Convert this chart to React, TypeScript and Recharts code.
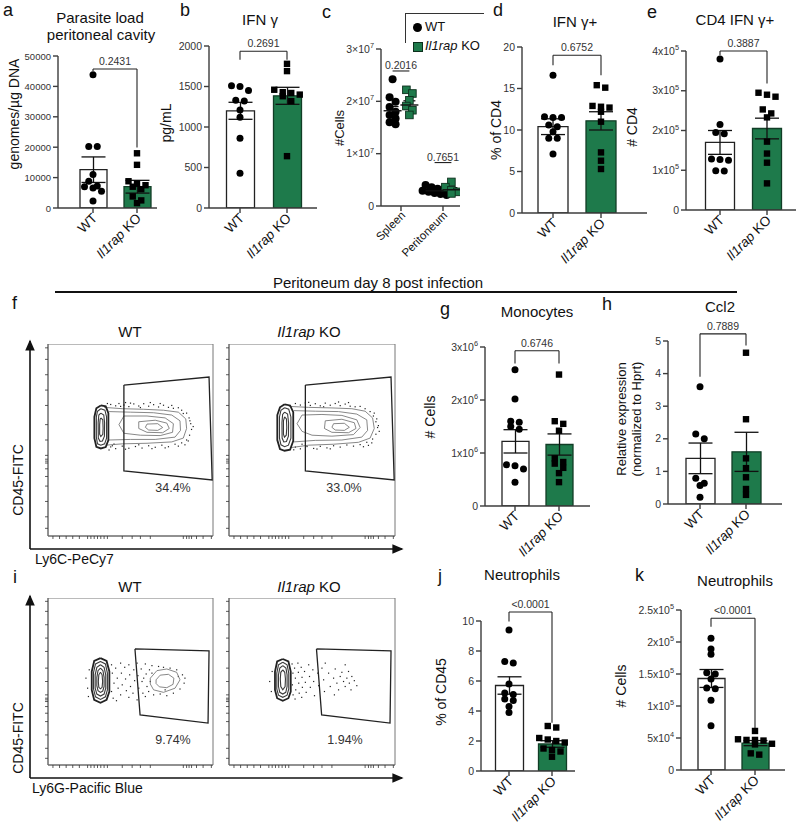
import React from 'react';
import {
  ComposedChart,
  ScatterChart,
  Bar,
  Cell,
  ErrorBar,
  Scatter,
  XAxis,
  YAxis,
  ReferenceLine,
  ReferenceArea,
} from 'recharts';

const FONT = '"Liberation Sans", Arial, Helvetica, sans-serif';
const GREEN = '#1e7a4b';
const INK = '#111';
const GREY = '#3c3c3c';

// a - parasite load (genomes/ug DNA)
const parasiteTicks = [0, 10000, 20000, 30000, 40000, 50000];
const parasiteTickLabels = ['0', '10000', '20000', '30000', '40000', '50000'];
const parasiteWT = [43800, 20200, 20200, 11000, 8800, 7200, 7000, 6600, 5500, 2300];
const parasiteKO = [18000, 14200, 8800, 8000, 7500, 7000, 6200, 3800, 2500, 1600];
const parasiteMean = [12600, 7000];
const parasiteSem = [4200, 2100];
const parasiteBracket = { level: 45700, wtLow: 45100, koLow: 19900, text: '0.2431' };

// b - IFN gamma (pg/mL)
const ifngTicks = [0, 500, 1000, 1500, 2000];
const ifngTickLabels = ['0', '500', '1000', '1500', '2000'];
const ifngWT = [1510, 1500, 1450, 1330, 1320, 1210, 1120, 860, 430];
const ifngKO = [1780, 1690, 1460, 1430, 1420, 1400, 1380, 1320, 640];
const ifngMean = [1200, 1385];
const ifngSem = [105, 105];
const ifngBracket = { level: 1935, wtLow: 1830, koLow: 1830, text: '0.2691' };

// c - cell numbers per organ
const organTicks = [1, 2];
const organNames = ['Spleen', 'Peritoneum'];
const cellTicks = [0, 1e7, 2e7, 3e7];
const cellTickLabels = ['0', '1×10^7', '2×10^7', '3×10^7'];
const spleenWT = [2.42e7, 2.08e7, 1.99e7, 1.89e7, 1.8e7, 1.74e7, 1.67e7, 1.6e7, 1.56e7];
const spleenKO = [2.22e7, 2.15e7, 2.02e7, 1.91e7, 1.83e7, 1.74e7];
const peritWT = [0.4e7, 0.36e7, 0.33e7, 0.31e7, 0.29e7, 0.27e7, 0.25e7, 0.23e7, 0.21e7];
const peritKO = [0.46e7, 0.36e7, 0.3e7, 0.27e7, 0.24e7];
const cellMeanWT = [1.82e7, 0.29e7];
const cellSemWT = [0.08e7, 0.02e7];
const cellMeanKO = [1.93e7, 0.31e7];
const cellSemKO = [0.08e7, 0.04e7];
const cellPValues = ['0.2016', '0.7651'];
const cellBracketLevels = [2.58e7, 0.83e7];

// d - IFN gamma+ % of CD4
const cd4PctTicks = [0, 5, 10, 15, 20];
const cd4PctTickLabels = ['0', '5', '10', '15', '20'];
const cd4PctWT = [16.6, 11.6, 11.5, 11.5, 10.6, 10.4, 9.8, 9.0, 9.0, 7.1];
const cd4PctKO = [15.4, 15.1, 12.9, 12.8, 12.7, 12.2, 11.0, 7.3, 6.3, 5.3];
const cd4PctMean = [10.4, 11.1];
const cd4PctSem = [0.95, 1.1];
const cd4PctBracket = { level: 19, wtLow: 17.8, koLow: 16.6, text: '0.6752' };

// e - CD4 IFN gamma+ numbers
const cd4NumTicks = [0, 1e5, 2e5, 3e5, 4e5];
const cd4NumTickLabels = ['0', '1x10^5', '2x10^5', '3x10^5', '4x10^5'];
const cd4NumWT = [3.8e5, 2.15e5, 1.95e5, 1.92e5, 1.28e5, 1.27e5, 1.25e5, 0.99e5, 0.98e5];
const cd4NumKO = [2.95e5, 2.9e5, 2.85e5, 2.53e5, 2.43e5, 2.33e5, 1.72e5, 1.42e5, 1.19e5, 0.67e5];
const cd4NumMean = [1.7e5, 2.05e5];
const cd4NumSem = [0.3e5, 0.26e5];
const cd4NumBracket = { level: 4e5, wtLow: 3.89e5, koLow: 3.18e5, text: '0.3887' };

// g - monocytes
const monoTicks = [0, 1e6, 2e6, 3e6];
const monoTickLabels = ['0', '1x10^6', '2x10^6', '3x10^6'];
const monoWT = [2.57e6, 2.02e6, 1.6e6, 1.58e6, 1.5e6, 1.45e6, 0.78e6, 0.76e6, 0.7e6, 0.45e6];
const monoKO = [2.48e6, 1.6e6, 1.55e6, 1.42e6, 0.9e6, 0.83e6, 0.8e6, 0.72e6, 0.62e6, 0.45e6];
const monoMean = [1.22e6, 1.16e6];
const monoSem = [0.22e6, 0.2e6];
const monoBracket = { level: 2.93e6, wtLow: 2.69e6, koLow: 2.69e6, text: '0.6746' };

// h - Ccl2 relative expression
const ccl2Ticks = [0, 1, 2, 3, 4, 5];
const ccl2TickLabels = ['0', '1', '2', '3', '4', '5'];
const ccl2WT = [3.6, 2.15, 2.0, 0.79, 0.64, 0.57, 0.21];
const ccl2KO = [4.64, 2.6, 1.4, 1.1, 0.82, 0.46, 0.28];
const ccl2Mean = [1.4, 1.6];
const ccl2Sem = [0.47, 0.6];
const ccl2Bracket = { level: 5.22, wtLow: 3.9, koLow: 4.86, text: '0.7889' };

// j - neutrophils % of CD45
const neutPctTicks = [0, 2, 4, 6, 8, 10];
const neutPctTickLabels = ['0', '2', '4', '6', '8', '10'];
const neutPctWT = [9.4, 7.3, 7.2, 5.8, 5.2, 5.1, 4.8, 4.7, 4.3, 3.9];
const neutPctKO = [3.0, 2.9, 2.2, 2.1, 2.0, 1.9, 1.5, 1.4, 1.3, 0.95];
const neutPctMean = [5.7, 1.8];
const neutPctSem = [0.58, 0.22];
const neutPctBracket = { level: 10.6, wtLow: 9.96, koLow: 3.22, text: '<0.0001' };

// k - neutrophil numbers
const neutNumTicks = [0, 5e4, 1e5, 1.5e5, 2e5, 2.5e5];
const neutNumTickLabels = ['0', '5x10^4', '1x10^5', '1.5x10^5', '2x10^5', '2.5x10^5'];
const neutNumWT = [2.06e5, 1.89e5, 1.81e5, 1.52e5, 1.5e5, 1.42e5, 1.28e5, 1.27e5, 1.09e5, 0.69e5];
const neutNumKO = [0.61e5, 0.48e5, 0.47e5, 0.47e5, 0.46e5, 0.41e5, 0.4e5, 0.26e5, 0.24e5];
const neutNumMean = [1.43e5, 0.42e5];
const neutNumSem = [0.14e5, 0.04e5];
const neutNumBracket = { level: 2.37e5, wtLow: 2.24e5, koLow: 0.65e5, text: '<0.0001' };

// flow cytometry plots (0-100 display units)
const flowXTicks = [3, 7, 11, 15, 19, 24, 26, 28, 30, 32, 34, 36, 45, 51, 56, 62, 82, 84, 85.5, 87, 90, 94, 99];
const flowYTicks = [4, 10, 18, 26, 31, 35, 38, 39, 40, 42, 50, 58, 68, 76, 84, 92, 98];
const ly6cGate = [[46, 78.6], [97.6, 82.8], [99.5, 29.2], [46, 33.9], [46, 78.6]];
const ly6gGate = [[52.7, 69.5], [97.6, 68.3], [97, 25.1], [55.8, 30], [52.7, 69.5]];

const ly6cWTBlob = [
  [[32, 68], [35, 67.5], [36.6, 64], [36.6, 50], [35, 46.3], [32, 45.6], [29.3, 46.5], [28.1, 51], [28.1, 62], [29.3, 66.5], [32, 68]],
  [[32, 66.3], [34.5, 65.5], [35.5, 62], [35.5, 51], [34.3, 48], [32, 47.3], [30, 48], [29.3, 51.5], [29.3, 62], [30, 65], [32, 66.3]],
  [[32, 64], [33.8, 63], [34.3, 59], [34.2, 52], [33, 49.5], [31.5, 49.3], [30.5, 51], [30.4, 59], [30.8, 63], [32, 64]],
  [[32, 61.5], [33.2, 60.5], [33.4, 56], [33.2, 53], [32, 51.8], [31.3, 53], [31.3, 58], [31.6, 60.8], [32, 61.5]],
];
const ly6cWTTail = [
  [[34, 67], [45, 66.3], [58, 66], [70, 65.5], [79, 64.5], [83.5, 61], [84, 56], [82, 51], [75, 49], [60, 48.3], [45, 48], [35, 47.3]],
  [[37, 64.8], [50, 64.5], [64, 64.2], [75, 63], [80, 60], [80.3, 55], [77, 51.5], [65, 50.3], [50, 50.3], [37, 50]],
  [[46, 62.5], [60, 62.5], [71, 61.5], [76, 58.5], [75.5, 54], [68, 52.3], [56, 52.5], [46, 53.5], [43, 58], [46, 62.5]],
  [[55, 59.5], [65, 60.3], [72, 58.8], [73.5, 56], [69.5, 53.8], [60, 54], [55, 56], [55, 59.5]],
  [[60, 58.3], [66.5, 58.5], [69.5, 56.5], [66.5, 55], [61, 55.2], [59, 56.6], [60, 58.3]],
];
const ly6cWTDots = [
  [38, 68.5], [41, 67.8], [43, 69], [46, 68.2], [49, 67.4], [52, 68.8], [55, 67.7], [58, 68.9], [61, 67.6], [64, 68.4],
  [67, 67.2], [70, 68.1], [73, 67], [76, 66.5], [79, 66.8], [81, 65.5], [84, 64], [85.5, 61.5], [86.5, 58.5], [87, 55.5],
  [85.8, 52.5], [84, 50], [81, 48.5], [77, 47.8], [73, 46.5], [69, 47.3], [65, 46.2], [61, 47], [57, 45.8], [53, 46.6],
  [49, 45.7], [45, 46.8], [41, 45.5], [38, 46.4], [37, 44.8], [40, 47.9], [47, 69.5], [62, 69.5], [83, 47.5], [88, 57],
  [44, 67.5], [50, 69.2], [56, 66.9], [68, 69], [75, 68], [82, 63.8], [86, 60], [85, 49.5], [79, 46.8], [71, 45.9],
  [63, 45.5], [55, 47.5], [47, 45.2], [39, 47], [36, 69],
];
const ly6cKOBlob = [
  [[33.5, 68.6], [36.8, 68], [38.7, 64.5], [38.7, 49.5], [36.8, 45], [33.5, 44.4], [30.7, 45.3], [29.1, 50], [29.1, 63], [30.7, 67], [33.5, 68.6]],
  [[33.5, 66.8], [36, 66], [37.3, 62], [37.3, 51], [35.8, 47.3], [33.5, 46.5], [31.3, 47.5], [30.4, 51], [30.4, 62], [31.3, 65.5], [33.5, 66.8]],
  [[33.5, 64.5], [35.3, 63.5], [35.9, 59], [35.8, 52], [34.6, 49.2], [33, 49], [32, 51], [31.9, 59], [32.3, 63.3], [33.5, 64.5]],
  [[33.5, 62], [34.6, 61], [34.8, 56.5], [34.5, 52.5], [33.4, 51.5], [32.8, 53], [32.8, 60], [33.5, 62]],
];
const ly6cKOTail = [
  [[36, 67.5], [48, 67], [62, 66.7], [74, 66.3], [82, 65], [86.5, 61.5], [87.5, 56], [85, 51], [78, 48.8], [63, 47.8], [48, 47.3], [37, 46]],
  [[39, 65.3], [52, 65], [66, 64.8], [77, 63.5], [83, 60.5], [83.5, 55], [80, 51.5], [68, 50], [52, 49.8], [39, 49]],
  [[44, 63], [56, 63.3], [68, 62.8], [77, 60.5], [79, 56.5], [75, 52.8], [62, 52], [50, 52.5], [44, 54.5], [41, 58.5], [44, 63]],
  [[58, 60], [68, 60.8], [75.5, 59], [76.5, 56], [72, 53.8], [62, 54], [57.5, 56], [58, 60]],
  [[63, 58.5], [69.5, 58.7], [72.5, 56.6], [69.5, 55], [64, 55.2], [62, 56.6], [63, 58.5]],
];
const ly6cKODots = [
  [40, 69], [43, 68.2], [46, 69.3], [49, 68], [52, 68.9], [55, 67.8], [58, 69.2], [61, 68.1], [64, 69], [67, 67.9],
  [70, 68.7], [73, 67.6], [76, 67.3], [79, 67.5], [82, 66.3], [85, 64.8], [87, 62.5], [88.5, 59.5], [89.5, 56.5], [88.5, 53],
  [86.5, 50.5], [83, 48.8], [79, 47.6], [75, 46.8], [71, 47.4], [67, 46.3], [63, 47], [59, 45.9], [55, 46.7], [51, 45.6],
  [47, 46.6], [43, 45.4], [40, 46.3], [39, 44.9], [44, 47.8], [66, 69.8], [90, 57.5], [84, 47.2], [87.5, 64], [89, 61],
  [90.5, 54.5], [86, 48.5], [81, 46.5], [72, 69.5], [57, 67.3], [48, 69.6], [53, 45.3], [61, 45.4],
];
const ly6gWTBlob = [
  [[31.8, 64], [35.5, 62.3], [37.2, 56], [37.2, 44], [35.5, 39], [31.8, 37.3], [28, 39], [26.5, 45], [26.5, 56], [28, 62.3], [31.8, 64]],
  [[31.8, 62], [34.8, 60.5], [36, 55], [36, 45], [34.8, 40.8], [31.8, 39.3], [28.8, 40.8], [27.6, 45.5], [27.6, 55.5], [28.8, 60.5], [31.8, 62]],
  [[31.8, 60], [34, 58.5], [35, 54], [35, 46], [34, 42.5], [31.8, 41.3], [29.6, 42.5], [28.6, 46], [28.6, 54], [29.6, 58.5], [31.8, 60]],
  [[31.8, 58], [33.3, 56.5], [34, 52.5], [34, 47], [33.2, 44.3], [31.8, 43.5], [30.3, 44.5], [29.6, 47.5], [29.6, 52.5], [30.3, 56.5], [31.8, 58]],
  [[31.8, 55.5], [32.8, 54], [33.1, 50], [32.8, 46.5], [31.8, 45.6], [30.8, 46.5], [30.5, 50], [30.8, 54], [31.8, 55.5]],
];
const ly6gWTRings = [
  [[62, 52], [66, 56.5], [72, 57.5], [78, 55.5], [80, 51], [77, 46], [70, 43.5], [64, 45], [62, 48.5], [62, 52]],
  [[65.5, 51], [68, 53.8], [73, 54.3], [76.3, 52], [75.8, 48.3], [72, 46.3], [67.5, 46.8], [65.5, 48.8], [65.5, 51]],
];
const ly6gWTDots = [
  [23, 52], [24, 46], [25, 57], [24.5, 41], [38.5, 60], [39, 55], [40, 49], [38.5, 44], [39.5, 40], [41, 58],
  [42, 52], [42.5, 46], [41.5, 38.5], [44, 61], [44.5, 55], [45, 48], [44, 42], [46.5, 58.5], [47, 51.5], [47.5, 44.5],
  [49, 60], [49.5, 54], [50, 47], [49, 40.5], [52, 57], [52.5, 50.5], [51.5, 43], [54, 61], [54.5, 53.5], [55, 46],
  [54, 39], [56.5, 57.5], [57, 50], [57.5, 43], [59, 60.5], [59.5, 54.5], [60, 47], [59, 41], [61.5, 57], [61, 44],
  [63, 59.5], [64, 42], [67, 59], [68, 42.5], [70, 58.5], [72, 41.5], [74, 58], [76, 43], [78, 57], [80, 45.5],
  [81.5, 54], [82.5, 49], [83, 52], [79, 53], [63, 55], [71, 45], [58, 52], [62, 50],
];
const ly6gKOBlob = [
  [[32.4, 63.5], [35.8, 62], [37.2, 56], [37.2, 44], [35.8, 40], [32.4, 38.5], [29, 40], [27.7, 45], [27.7, 56], [29, 62], [32.4, 63.5]],
  [[32.4, 61.5], [35, 60], [36, 55], [36, 45.5], [35, 41.8], [32.4, 40.5], [29.8, 41.8], [28.8, 45.5], [28.8, 55], [29.8, 60], [32.4, 61.5]],
  [[32.4, 59.5], [34.3, 58], [35, 54], [35, 47], [34.2, 43.5], [32.4, 42.5], [30.6, 43.5], [29.8, 47], [29.8, 54], [30.6, 58], [32.4, 59.5]],
  [[32.4, 57], [33.6, 55.5], [34, 51.5], [33.8, 47], [32.4, 45], [31.2, 47], [30.9, 51.5], [31.2, 55.5], [32.4, 57]],
];
const ly6gKODots = [
  [24.5, 50], [25.5, 44], [26, 56], [38, 60.5], [38.5, 55], [38.2, 48], [38.6, 42], [39.5, 58], [40, 52], [40.2, 45],
  [39.8, 39.5], [41.5, 61], [41.8, 55.5], [42, 49], [42.3, 43], [43.5, 58.5], [44, 52.5], [44.2, 46.5], [43.8, 40.5], [45.5, 56],
  [46, 49.5], [46.5, 43.5], [48, 60], [48.5, 53], [49, 46.5], [50.5, 57], [51, 50], [51.5, 41.5], [53.5, 55], [54, 47.5],
  [56, 58], [57, 51], [57.5, 44], [60, 55], [61, 47], [63, 52], [64, 57.5], [65, 49], [66, 45], [67, 53],
  [68, 55.5], [69, 50], [70, 47], [71, 52], [72, 56], [72.5, 49], [73.5, 45], [74, 53], [75.5, 50.5], [77, 47.5],
  [63.5, 42], [58, 61], [70, 60],
];

// beeswarm in rows: values within tol share a row and are centred side by side
function swarm(vals: number[], tol: number) {
  const order = vals.map((_, i) => i).sort((a, b) => vals[b] - vals[a]);
  const offs = new Array(vals.length).fill(0);
  let row: number[] = [];
  let start = 0;
  const flush = () => {
    row.forEach((idx, k) => (offs[idx] = k - (row.length - 1) / 2));
    row = [];
  };
  for (const i of order) {
    if (row.length && start - vals[i] > tol) flush();
    if (!row.length) start = vals[i];
    row.push(i);
  }
  flush();
  return offs;
}

const Dot = (p: any) => <circle cx={p.cx + (p.payload.dx || 0)} cy={p.cy} r={3.5} fill="#000" />;
const Sq = (p: any) => (
  <rect x={p.cx + (p.payload.dx || 0) - 3.2} y={p.cy - 3.2} width={6.4} height={6.4} fill="#000" />
);
const BigDot = (p: any) => <circle cx={p.cx + (p.payload.dx || 0)} cy={p.cy} r={4} fill="#000" />;
const GreenSq = (p: any) => (
  <rect x={p.cx + (p.payload.dx || 0) - 3.8} y={p.cy - 3.8} width={7.6} height={7.6} fill={GREEN} stroke="#0c2f1c" strokeWidth={0.9} />
);
const MeanBar = (p: any) => <line x1={p.cx - 9} x2={p.cx + 9} y1={p.cy} y2={p.cy} stroke="#111" strokeWidth={1.4} />;
const Nothing = () => <g />;
const Speck = (p: any) => <rect x={p.cx - 0.6} y={p.cy - 0.6} width={1.2} height={1.2} fill="#222" />;

function GroupTick({ x, y, payload }: any) {
  const ax = x + 5;
  const ay = y + 4;
  return (
    <text x={ax} y={ay} transform={`rotate(-45 ${ax} ${ay})`} textAnchor="end" fontSize={13.5} fontFamily={FONT} fill={INK}>
      {payload.value === 'KO' ? (
        <>
          <tspan fontStyle="italic">Il1rap</tspan>
          <tspan>{' KO'}</tspan>
        </>
      ) : (
        'WT'
      )}
    </text>
  );
}

function OrganTick({ x, y, payload }: any) {
  const ax = x + 5;
  const ay = y + 3;
  return (
    <text x={ax} y={ay} transform={`rotate(-45 ${ax} ${ay})`} textAnchor="end" fontSize={11.5} fontFamily={FONT} fill={INK}>
      {organNames[organTicks.indexOf(payload.value)]}
    </text>
  );
}

function ValueTick({ x, y, label, size = 10.5 }: any) {
  const [base, exp] = String(label).split('^');
  return (
    <text x={x} y={y} dy={3.5} textAnchor="end" fontSize={size} fontFamily={FONT} fill="#333">
      {base}
      {exp ? (
        <tspan dy={-4.5} fontSize={size * 0.7}>
          {exp}
        </tspan>
      ) : null}
    </text>
  );
}

type Bracket = { level: number; wtLow: number; koLow: number; text: string };

function BarPanel(props: {
  axisX: number;
  axisEnd: number;
  yTop: number;
  yBot: number;
  wtX: number;
  koX: number;
  barSize: number;
  ticks: number[];
  tickLabels: string[];
  tickSize?: number;
  wt: number[];
  ko: number[];
  mean: number[];
  sem: number[];
  bracket: Bracket;
}) {
  const { axisX, axisEnd, yTop, yBot, wtX, koX, barSize, ticks, tickLabels, wt, ko, mean, sem, bracket } = props;
  const left = axisX - 60;
  const top = yTop - 40;
  const band = koX - wtX;
  const max = ticks[ticks.length - 1];
  const tol = (5 * max) / (yBot - yTop);
  const bars = [
    { g: 'WT', m: mean[0], e: sem[0] },
    { g: 'KO', m: mean[1], e: sem[1] },
  ];
  const wtOff = swarm(wt, tol);
  const koOff = swarm(ko, tol);
  const wtPts = wt.map((v, i) => ({ g: 'WT', v, dx: wtOff[i] * 8.5 }));
  const koPts = ko.map((v, i) => ({ g: 'KO', v, dx: koOff[i] * 8.5 }));
  const axisStyle = { stroke: GREY, strokeWidth: 1.4 };
  const seg = { stroke: '#222', strokeWidth: 1.1, ifOverflow: 'visible' as const };
  return (
    <div style={{ position: 'absolute', left, top }}>
      <ComposedChart
        width={axisEnd - left + 4}
        height={yBot - top + 62}
        data={bars}
        margin={{ top: 40, right: 4, bottom: 0, left: 0 }}
      >
        <XAxis
          dataKey="g"
          type="category"
          allowDuplicatedCategory={false}
          height={62}
          padding={{ left: wtX - band / 2 - axisX, right: axisEnd - koX - band / 2 }}
          axisLine={axisStyle}
          tickLine={axisStyle}
          tickSize={5}
          interval={0}
          tick={<GroupTick />}
        />
        <YAxis
          type="number"
          domain={[0, max]}
          ticks={ticks}
          allowDataOverflow
          width={60}
          axisLine={axisStyle}
          tickLine={axisStyle}
          tickSize={5}
          interval={0}
          tick={(t: any) => (
            <ValueTick {...t} size={props.tickSize ?? 10.5} label={tickLabels[ticks.indexOf(t.payload.value)]} />
          )}
        />
        <Bar dataKey="m" barSize={barSize} isAnimationActive={false} strokeWidth={1.3}>
          <Cell fill="#fff" stroke="#222" />
          <Cell fill={GREEN} stroke="#113d26" />
          <ErrorBar dataKey="e" width={12} stroke="#111" strokeWidth={1.3} direction="y" />
        </Bar>
        <Scatter data={wtPts} dataKey="v" isAnimationActive={false} shape={Dot} />
        <Scatter data={koPts} dataKey="v" isAnimationActive={false} shape={Sq} />
        <ReferenceLine
          segment={[
            { x: 'WT', y: bracket.level },
            { x: 'KO', y: bracket.level },
          ]}
          {...seg}
          label={{ value: bracket.text, position: 'top', offset: 4, fontSize: 10.5, fill: '#333', fontFamily: FONT }}
        />
        <ReferenceLine
          segment={[
            { x: 'WT', y: bracket.level },
            { x: 'WT', y: bracket.wtLow },
          ]}
          {...seg}
        />
        <ReferenceLine
          segment={[
            { x: 'KO', y: bracket.level },
            { x: 'KO', y: bracket.koLow },
          ]}
          {...seg}
        />
      </ComposedChart>
    </div>
  );
}

function CellsPanel() {
  const axisX = 381;
  const axisEnd = 460;
  const yTop = 49;
  const yBot = 206;
  const left = axisX - 60;
  const top = yTop - 40;
  const max = cellTicks[cellTicks.length - 1];
  const tol = (5 * max) / (yBot - yTop);
  const pts = (vals: number[], x: number) => {
    const off = swarm(vals, tol);
    return vals.map((v, i) => ({ x, v, dx: off[i] * 6 }));
  };
  const axisStyle = { stroke: GREY, strokeWidth: 1.4 };
  const wtX = organTicks.map((t) => t - 0.2);
  const koX = organTicks.map((t) => t + 0.2);
  const means = [
    ...wtX.map((x, i) => ({ x, v: cellMeanWT[i], e: cellSemWT[i] })),
    ...koX.map((x, i) => ({ x, v: cellMeanKO[i], e: cellSemKO[i] })),
  ];
  return (
    <div style={{ position: 'absolute', left, top }}>
      <ComposedChart width={axisEnd - left + 4} height={yBot - top + 62} margin={{ top: 40, right: 4, bottom: 0, left: 0 }}>
        <XAxis
          type="number"
          dataKey="x"
          domain={[0.524, 2.405]}
          ticks={organTicks}
          allowDataOverflow
          height={62}
          axisLine={axisStyle}
          tickLine={axisStyle}
          tickSize={5}
          interval={0}
          tick={<OrganTick />}
        />
        <YAxis
          type="number"
          domain={[0, max]}
          ticks={cellTicks}
          allowDataOverflow
          width={60}
          axisLine={axisStyle}
          tickLine={axisStyle}
          tickSize={5}
          interval={0}
          tick={(t: any) => <ValueTick {...t} label={cellTickLabels[cellTicks.indexOf(t.payload.value)]} />}
        />
        <Scatter data={pts(spleenWT, wtX[0])} dataKey="v" isAnimationActive={false} shape={BigDot} />
        <Scatter data={pts(peritWT, wtX[1])} dataKey="v" isAnimationActive={false} shape={BigDot} />
        <Scatter data={pts(spleenKO, koX[0])} dataKey="v" isAnimationActive={false} shape={GreenSq} />
        <Scatter data={pts(peritKO, koX[1])} dataKey="v" isAnimationActive={false} shape={GreenSq} />
        <Scatter data={means} dataKey="v" isAnimationActive={false} shape={MeanBar}>
          <ErrorBar dataKey="e" width={6} stroke="#111" strokeWidth={1.3} direction="y" />
        </Scatter>
        {organTicks.map((t, i) => (
          <ReferenceLine
            key={t}
            segment={[
              { x: wtX[i], y: cellBracketLevels[i] },
              { x: koX[i], y: cellBracketLevels[i] },
            ]}
            stroke="#222"
            strokeWidth={1.1}
            ifOverflow="visible"
            label={{ value: cellPValues[i], position: 'top', offset: 2, fontSize: 10.5, fill: '#333', fontFamily: FONT }}
          />
        ))}
      </ComposedChart>
    </div>
  );
}

const toPts = (arr: number[][]) => arr.map(([x, y]) => ({ x, y }));

function FlowPlot(props: {
  x: number;
  y: number;
  w: number;
  h: number;
  blob: number[][][];
  rings: number[][][];
  dots: number[][];
  gate: number[][];
}) {
  const { x, y, w, h, blob, rings, dots, gate } = props;
  const axisStyle = { stroke: '#666', strokeWidth: 1 };
  return (
    <div style={{ position: 'absolute', left: x - 6, top: y }}>
      <ScatterChart width={w + 8} height={h + 6} margin={{ top: 0, right: 2, bottom: 0, left: 0 }}>
        <XAxis
          type="number"
          dataKey="x"
          domain={[0, 100]}
          ticks={flowXTicks}
          interval={0}
          height={6}
          tickSize={3}
          axisLine={axisStyle}
          tickLine={{ stroke: '#333', strokeWidth: 0.8 }}
          tick={() => <g />}
        />
        <YAxis
          type="number"
          dataKey="y"
          domain={[0, 100]}
          ticks={flowYTicks}
          interval={0}
          width={6}
          tickSize={3}
          axisLine={axisStyle}
          tickLine={{ stroke: '#333', strokeWidth: 0.8 }}
          tick={() => <g />}
        />
        <ReferenceArea x1={0} x2={100} y1={0} y2={100} fill="none" stroke="#777" strokeWidth={1} ifOverflow="visible" />
        <Scatter data={toPts(dots)} isAnimationActive={false} shape={Speck} />
        {rings.map((r, i) => (
          <Scatter
            key={'r' + i}
            data={toPts(r)}
            isAnimationActive={false}
            line={{ stroke: '#6a6a6a', strokeWidth: 0.8 }}
            lineType="joint"
            shape={Nothing}
          />
        ))}
        {blob.map((r, i) => (
          <Scatter
            key={'b' + i}
            data={toPts(r)}
            isAnimationActive={false}
            line={{ stroke: i === 0 ? '#222' : '#3a3a3a', strokeWidth: i === 0 ? 1.8 : 1.1 }}
            lineType="joint"
            shape={Nothing}
          />
        ))}
        <Scatter
          data={toPts(gate)}
          isAnimationActive={false}
          line={{ stroke: '#222', strokeWidth: 1.3 }}
          lineType="joint"
          shape={Nothing}
        />
      </ScatterChart>
    </div>
  );
}

function Txt({ x, y, children, size = 14, anchor = 'middle', rotate = 0, style = {} }: any) {
  const tx = anchor === 'middle' ? '-50%' : anchor === 'end' ? '-100%' : '0';
  return (
    <div
      style={{
        position: 'absolute',
        left: x,
        top: y,
        transform: `translate(${tx}, -50%) rotate(${rotate}deg)`,
        fontSize: size,
        whiteSpace: 'nowrap',
        fontFamily: FONT,
        color: INK,
        lineHeight: 1.1,
        ...style,
      }}
    >
      {children}
    </div>
  );
}

const KO = (
  <>
    <i>Il1rap</i> KO
  </>
);

export default function App() {
  return (
    <div
      style={{
        position: 'absolute',
        left: 0,
        top: 0,
        width: 800,
        height: 829,
        overflow: 'hidden',
        background: '#fff',
        fontFamily: FONT,
      }}
    >
      {/* top row */}
      <BarPanel axisX={58} axisEnd={157} yTop={56} yBot={208} wtX={93} koX={137} barSize={27}
        ticks={parasiteTicks} tickLabels={parasiteTickLabels} tickSize={9.5}
        wt={parasiteWT} ko={parasiteKO} mean={parasiteMean} sem={parasiteSem} bracket={parasiteBracket} />
      <BarPanel axisX={209} axisEnd={317} yTop={46} yBot={208} wtX={240} koX={287} barSize={28}
        ticks={ifngTicks} tickLabels={ifngTickLabels}
        wt={ifngWT} ko={ifngKO} mean={ifngMean} sem={ifngSem} bracket={ifngBracket} />
      <CellsPanel />
      <BarPanel axisX={522} axisEnd={647} yTop={47} yBot={213} wtX={553} koX={601} barSize={30}
        ticks={cd4PctTicks} tickLabels={cd4PctTickLabels}
        wt={cd4PctWT} ko={cd4PctKO} mean={cd4PctMean} sem={cd4PctSem} bracket={cd4PctBracket} />
      <BarPanel axisX={686} axisEnd={796} yTop={51} yBot={210} wtX={720} koX={767} barSize={29}
        ticks={cd4NumTicks} tickLabels={cd4NumTickLabels}
        wt={cd4NumWT} ko={cd4NumKO} mean={cd4NumMean} sem={cd4NumSem} bracket={cd4NumBracket} />

      {/* middle row */}
      <FlowPlot x={48} y={344} w={165} h={192} blob={ly6cWTBlob} rings={ly6cWTTail} dots={ly6cWTDots} gate={ly6cGate} />
      <FlowPlot x={229} y={344} w={166} h={192} blob={ly6cKOBlob} rings={ly6cKOTail} dots={ly6cKODots} gate={ly6cGate} />
      <BarPanel axisX={485} axisEnd={590} yTop={347} yBot={506} wtX={515} koX={559} barSize={27}
        ticks={monoTicks} tickLabels={monoTickLabels}
        wt={monoWT} ko={monoKO} mean={monoMean} sem={monoSem} bracket={monoBracket} />
      <BarPanel axisX={668} axisEnd={782} yTop={341} yBot={504} wtX={700} koX={746} barSize={29}
        ticks={ccl2Ticks} tickLabels={ccl2TickLabels}
        wt={ccl2WT} ko={ccl2KO} mean={ccl2Mean} sem={ccl2Sem} bracket={ccl2Bracket} />

      {/* bottom row */}
      <FlowPlot x={48} y={598} w={165} h={167} blob={ly6gWTBlob} rings={ly6gWTRings} dots={ly6gWTDots} gate={ly6gGate} />
      <FlowPlot x={229} y={598} w={166} h={167} blob={ly6gKOBlob} rings={[]} dots={ly6gKODots} gate={ly6gGate} />
      <BarPanel axisX={481} axisEnd={575} yTop={621} yBot={771} wtX={509} koX={552} barSize={28}
        ticks={neutPctTicks} tickLabels={neutPctTickLabels}
        wt={neutPctWT} ko={neutPctKO} mean={neutPctMean} sem={neutPctSem} bracket={neutPctBracket} />
      <BarPanel axisX={681} axisEnd={785} yTop={610} yBot={770} wtX={711} koX={755} barSize={27}
        ticks={neutNumTicks} tickLabels={neutNumTickLabels}
        wt={neutNumWT} ko={neutNumKO} mean={neutNumMean} sem={neutNumSem} bracket={neutNumBracket} />

      {/* arrows and header rule */}
      <svg width={800} height={829} style={{ position: 'absolute', left: 0, top: 0, pointerEvents: 'none' }}>
        <defs>
          <marker id="ah" markerWidth="8" markerHeight="8" refX="6" refY="4" orient="auto">
            <path d="M0,1 L7,4 L0,7 Z" fill="#111" />
          </marker>
        </defs>
        <line x1={55} y1={292} x2={737} y2={292} stroke="#111" strokeWidth={2} />
        <line x1={30} y1={549} x2={30} y2={341} stroke="#111" strokeWidth={1.6} markerEnd="url(#ah)" />
        <line x1={30} y1={549} x2={402} y2={549} stroke="#111" strokeWidth={1.6} markerEnd="url(#ah)" />
        <line x1={30} y1={778} x2={30} y2={596} stroke="#111" strokeWidth={1.6} markerEnd="url(#ah)" />
        <line x1={30} y1={778} x2={402} y2={778} stroke="#111" strokeWidth={1.6} markerEnd="url(#ah)" />
      </svg>

      {/* panel letters */}
      <Txt x={3} y={11} size={18} anchor="start">a</Txt>
      <Txt x={180} y={11} size={18} anchor="start">b</Txt>
      <Txt x={322} y={13} size={18} anchor="start">c</Txt>
      <Txt x={493} y={11} size={18} anchor="start">d</Txt>
      <Txt x={647} y={13} size={18} anchor="start">e</Txt>
      <Txt x={12} y={304} size={18} anchor="start">f</Txt>
      <Txt x={440} y={310} size={18} anchor="start">g</Txt>
      <Txt x={602} y={305} size={18} anchor="start">h</Txt>
      <Txt x={13} y={578} size={18} anchor="start">i</Txt>
      <Txt x={438} y={577} size={18} anchor="start">j</Txt>
      <Txt x={635} y={576} size={18} anchor="start">k</Txt>

      {/* titles */}
      <Txt x={100} y={18} size={15}>Parasite load</Txt>
      <Txt x={101} y={35} size={15}>peritoneal cavity</Txt>
      <Txt x={260} y={20} size={15}>IFN γ</Txt>
      <Txt x={575} y={22} size={15}>IFN γ+</Txt>
      <Txt x={735} y={20} size={15}>CD4 IFN γ+</Txt>
      <Txt x={378} y={283} size={15}>Peritoneum day 8 post infection</Txt>
      <Txt x={537} y={312} size={15}>Monocytes</Txt>
      <Txt x={720} y={307} size={15}>Ccl2</Txt>
      <Txt x={522} y={575} size={15}>Neutrophils</Txt>
      <Txt x={735} y={581} size={15}>Neutrophils</Txt>
      <Txt x={130} y={332} size={15}>WT</Txt>
      <Txt x={309} y={332} size={15}>{KO}</Txt>
      <Txt x={130} y={587} size={15}>WT</Txt>
      <Txt x={309} y={587} size={15}>{KO}</Txt>

      {/* axis titles */}
      <Txt x={15} y={114} size={14} rotate={-90}>genomes/µg DNA</Txt>
      <Txt x={167} y={123} size={14} rotate={-90}>pg/mL</Txt>
      <Txt x={340} y={128} size={13} rotate={-90}>#Cells</Txt>
      <Txt x={497} y={130} size={14} rotate={-90}>% of CD4</Txt>
      <Txt x={633} y={127} size={14} rotate={-90}># CD4</Txt>
      <Txt x={431} y={417} size={14} rotate={-90}># Cells</Txt>
      <Txt x={622} y={419} size={13} rotate={-90}>Relative expression</Txt>
      <Txt x={637} y={419} size={13} rotate={-90}>(normalized to Hprt)</Txt>
      <Txt x={442} y={692} size={14} rotate={-90}>% of CD45</Txt>
      <Txt x={622} y={686} size={14} rotate={-90}># Cells</Txt>
      <Txt x={19} y={480} size={14} rotate={-90}>CD45-FITC</Txt>
      <Txt x={19} y={738} size={14} rotate={-90}>CD45-FITC</Txt>
      <Txt x={35} y={560} size={14} anchor="start">Ly6C-PeCy7</Txt>
      <Txt x={32} y={789} size={14} anchor="start">Ly6G-Pacific Blue</Txt>

      {/* gate frequencies */}
      <Txt x={173} y={489} size={12.5} style={{ color: '#333' }}>34.4%</Txt>
      <Txt x={344} y={489} size={12.5} style={{ color: '#333' }}>33.0%</Txt>
      <Txt x={173} y={741} size={12.5} style={{ color: '#333' }}>9.74%</Txt>
      <Txt x={345} y={741} size={12.5} style={{ color: '#333' }}>1.94%</Txt>

      {/* legend of c */}
      <div style={{ position: 'absolute', left: 405, top: 13, width: 78, height: 29, borderTop: '1px solid #333', borderLeft: '1px solid #333' }} />
      <div style={{ position: 'absolute', left: 413, top: 23, width: 9, height: 9, borderRadius: '50%', background: '#000' }} />
      <Txt x={425} y={27} size={13} anchor="start">WT</Txt>
      <div style={{ position: 'absolute', left: 413, top: 42, width: 8, height: 8, background: GREEN, border: '1px solid #0c2f1c' }} />
      <Txt x={425} y={46} size={13} anchor="start">{KO}</Txt>
    </div>
  );
}
